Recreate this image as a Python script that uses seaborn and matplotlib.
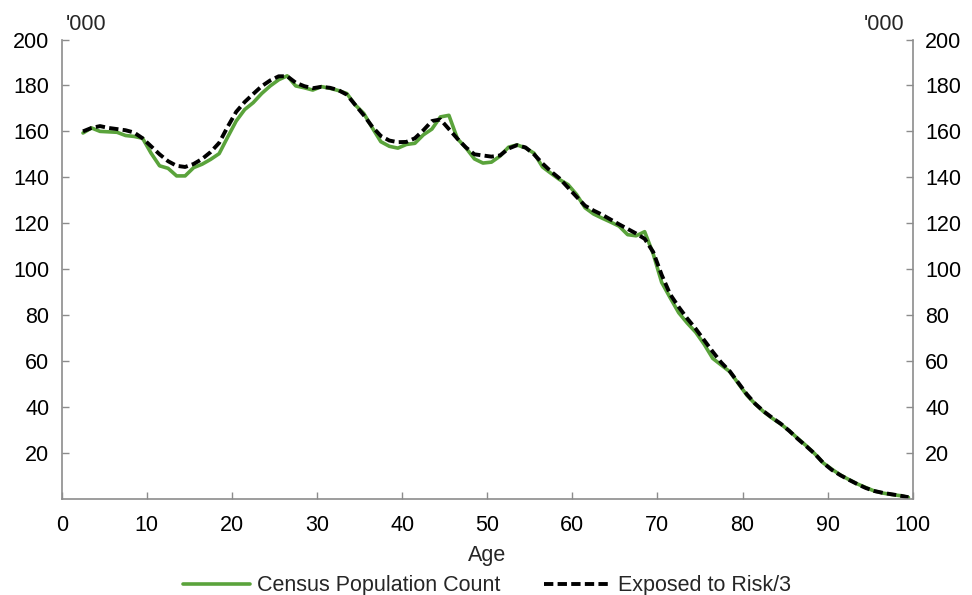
import numpy as np
import pandas as pd
import matplotlib
matplotlib.use("Agg")
import matplotlib.pyplot as plt
import seaborn as sns

# ── DATA ('000 persons, by single year of age, plotted at mid-year) ──
ages = np.arange(2.5, 100.0, 1.0)

census = [
    159.3, 161.5, 160.0, 159.8, 159.6, 158.2, 157.8, 157.0, 150.5, 145.0,
    143.9, 140.6, 140.6, 144.2, 145.7, 147.8, 150.3, 157.5, 164.5, 169.5,
    172.5, 176.5, 179.8, 182.5, 184.2, 179.8, 179.0, 178.0, 179.5, 178.8,
    177.8, 176.5, 171.5, 167.8, 161.5, 155.5, 153.5, 152.7, 154.3, 154.8,
    158.5, 161.0, 166.3, 167.0, 156.8, 152.8, 148.0, 146.2, 146.6, 149.2,
    153.1, 154.1, 152.8, 150.5, 144.5, 141.7, 139.0, 136.8, 132.5, 126.7,
    124.0, 122.2, 120.5, 118.7, 115.0, 114.5, 116.3, 106.7, 94.2, 87.5,
    81.0, 76.5, 72.5, 67.2, 61.1, 58.2, 55.3, 50.2, 45.1, 41.2,
    37.8, 35.0, 32.5, 29.5, 26.2, 23.0, 19.5, 15.5, 12.8, 10.3,
    8.3, 6.4, 4.8, 3.3, 2.4, 1.8, 1.3, 0.5,
]

exposed_3 = [
    160.0, 161.5, 162.3, 161.5, 161.0, 160.5, 159.5, 157.0, 153.5, 150.0,
    147.0, 145.0, 144.5, 145.8, 148.0, 151.0, 155.0, 162.0, 168.5, 172.8,
    176.3, 179.7, 182.2, 184.0, 184.0, 181.2, 179.7, 178.8, 179.4, 179.0,
    178.0, 176.0, 171.5, 167.0, 162.0, 158.0, 156.0, 155.3, 155.4, 157.0,
    160.5, 164.5, 165.2, 161.0, 156.8, 153.0, 150.0, 149.5, 149.0, 149.5,
    152.5, 154.0, 153.0, 150.0, 146.0, 142.5, 139.5, 135.5, 131.5, 127.6,
    125.5, 123.7, 121.6, 119.5, 117.5, 115.5, 113.2, 107.5, 97.5, 89.0,
    83.5, 78.5, 74.0, 69.0, 64.0, 59.3, 55.5, 50.5, 45.5, 41.3,
    38.0, 35.2, 32.6, 29.5, 26.0, 22.8, 19.5, 15.5, 12.5, 10.2,
    8.2, 6.3, 4.6, 3.3, 2.5, 1.9, 1.3, 0.6,
]

series_names = ["Census Population Count", "Exposed to Risk/3"]
x_ticks = list(range(0, 101, 10))
y_ticks = list(range(20, 201, 20))

df = pd.DataFrame({"Age": ages, series_names[0]: census, series_names[1]: exposed_3})

# ── STYLE ─────────────────────────────────────────────────
sns.set_theme(style="white")
plt.rcParams["font.family"] = ["Liberation Sans", "DejaVu Sans"]
GREEN = "#5AA33B"
AXIS_GREY = "#8C8C8C"
FS = 15.5

fig = plt.figure(figsize=(9.72, 5.95), dpi=100)
ax = fig.add_axes([0.0635, 0.162, 0.8755, 0.7715])

sns.lineplot(data=df, x="Age", y=series_names[0], ax=ax, color=GREEN,
             linewidth=2.6, label=series_names[0])
sns.lineplot(data=df, x="Age", y=series_names[1], ax=ax, color="black",
             linewidth=2.8, linestyle=(0, (2.4, 1.1)), label=series_names[1])

ax.set_xlim(0, 100)
ax.set_ylim(0, 200)
ax.set_xticks(x_ticks)
ax.set_yticks(y_ticks)
ax.set_xlabel("Age", fontsize=FS, labelpad=6)
ax.set_ylabel("")

ax.tick_params(axis="both", direction="in", length=5, width=1, color=AXIS_GREY,
               labelsize=FS, colors="black")
ax.tick_params(axis="y", left=True, right=True, labelleft=True, labelright=True, pad=9)
ax.tick_params(axis="x", bottom=True, pad=12)
for side in ["left", "right", "bottom"]:
    ax.spines[side].set_color(AXIS_GREY)
    ax.spines[side].set_linewidth(1.2)
ax.spines["top"].set_visible(False)

ax.text(0.005, 1.01, "'000", transform=ax.transAxes, fontsize=FS,
        ha="left", va="bottom")
ax.text(0.99, 1.01, "'000", transform=ax.transAxes, fontsize=FS,
        ha="right", va="bottom")

ax.legend(loc="upper center", bbox_to_anchor=(0.5, -0.148), ncol=2,
          frameon=False, fontsize=FS, handlelength=3.1, handletextpad=0.35,
          columnspacing=2.0, borderaxespad=0)

fig.savefig("out.png", dpi=100, facecolor="white")
